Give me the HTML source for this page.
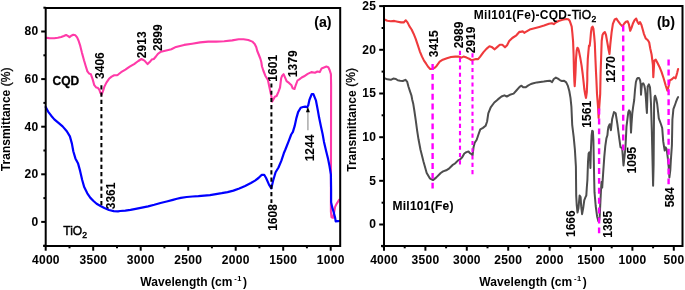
<!DOCTYPE html><html><head><meta charset="utf-8"><style>html,body{margin:0;padding:0;background:#fff;}svg{display:block;will-change:transform;filter:blur(0.3px)}text{stroke:#000;stroke-width:0.08px}.t{stroke-width:0}.n{letter-spacing:0.3px;stroke-width:0.05px}</style></head><body>
<svg width="685" height="290" viewBox="0 0 685 290" xmlns="http://www.w3.org/2000/svg" font-family="Liberation Sans">
<rect width="685" height="290" fill="#fff"/>
<polyline points="46.1,37.7 49.2,38.1 54.3,38.3 57.8,37.8 61.2,37.0 63.8,36.0 66.1,35.0 67.8,35.9 69.5,37.1 71.2,35.7 73.3,34.8 75.4,35.3 77.1,37.4 78.5,40.5 80.2,45.7 81.9,52.6 84.0,60.3 85.7,66.0 87.4,71.4 89.2,73.6 90.9,74.3 92.6,79.1 94.3,85.2 96.1,87.4 97.8,87.8 99.2,89.5 100.4,92.9 101.6,94.7 103.0,91.2 104.3,86.9 106.4,82.6 109.0,78.8 111.6,76.6 114.2,75.3 116.8,75.3 118.5,74.3 121.1,72.2 125.4,69.7 129.7,66.7 134.1,64.1 138.3,61.0 141.4,59.0 144.5,60.6 147.6,64.1 149.7,62.1 151.7,59.6 153.8,59.0 155.9,56.5 157.9,53.8 161.0,51.7 165.2,50.7 171.4,49.2 176.0,46.9 184.1,44.9 192.1,43.7 200.1,42.4 208.2,41.6 216.2,41.6 224.2,41.3 232.2,40.4 238.7,39.2 243.5,39.2 248.3,40.0 252.3,41.6 254.7,44.0 256.3,47.3 257.1,50.5 258.7,54.5 260.3,58.5 261.3,62.0 262.0,66.5 263.3,70.5 265.3,75.7 267.9,80.0 269.7,88.6 271.4,96.4 272.2,101.6 273.6,99.0 274.8,96.7 276.6,96.0 278.3,92.1 280.0,87.7 281.2,78.1 282.2,75.7 283.6,74.2 284.8,76.9 286.6,81.1 289.0,82.9 291.5,85.3 292.7,88.3 294.5,89.0 295.7,85.3 297.5,80.5 299.3,79.3 301.7,77.5 304.1,76.3 307.7,73.9 311.4,72.1 315.0,72.7 317.4,71.5 319.8,72.1 321.6,68.4 324.0,67.5 326.4,66.6 328.3,67.2 329.7,70.3 330.9,74.1 331.1,84.5 331.0,150.0 330.9,205.7 330.9,211.7 331.5,217.2 333.0,217.8 334.3,211.7 335.1,206.9 336.9,203.3 339.3,199.7" fill="none" stroke="#ff3aa8" stroke-width="2.1" stroke-linejoin="round" stroke-linecap="round"/>
<polyline points="45.7,107.0 48.1,111.6 51.2,115.7 54.3,119.4 58.5,122.9 62.6,126.4 66.8,131.2 69.9,136.4 71.9,143.6 73.3,151.2 75.4,158.4 78.1,163.6 80.1,170.9 82.2,180.0 84.2,187.1 87.3,193.3 90.4,197.9 93.5,201.0 96.6,203.8 100.5,206.0 104.4,208.0 109.0,210.0 113.7,211.1 118.0,211.3 120.2,211.0 125.3,210.6 130.5,209.9 135.7,208.9 141.9,207.7 148.1,206.4 154.3,204.8 160.5,203.0 166.7,201.5 172.9,199.9 177.0,198.8 180.8,197.9 186.7,197.0 192.5,196.5 198.4,196.2 204.2,195.6 210.0,195.1 215.9,194.1 221.7,193.2 227.6,192.1 233.4,190.6 239.3,188.5 245.1,185.9 250.9,183.0 255.0,180.6 258.5,178.0 261.8,174.8 264.2,174.8 266.1,178.0 269.0,184.6 271.3,188.4 273.1,180.8 275.6,172.3 278.5,167.5 281.3,160.9 283.8,153.3 285.4,149.5 288.6,141.4 291.2,134.5 292.9,131.9 294.7,125.9 296.4,118.1 298.1,112.1 300.7,107.8 303.0,107.0 305.2,106.6 307.0,107.3 308.2,105.4 309.4,100.0 311.7,94.1 313.4,94.1 315.9,100.3 317.9,110.7 319.1,117.6 320.9,126.2 322.6,134.0 324.0,141.9 326.0,150.5 328.1,159.1 329.5,166.0 330.9,174.7 331.1,190.0 331.1,202.1 332.1,206.9 333.9,212.9 335.1,217.8 335.7,221.4 338.1,221.2 339.9,220.8" fill="none" stroke="#0000ff" stroke-width="2.2" stroke-linejoin="round" stroke-linecap="round"/>
<g stroke="#000" stroke-width="2" stroke-dasharray="4.2,3.04">
<line x1="101.4" y1="85.2" x2="101.4" y2="206"/>
<line x1="271.4" y1="83.4" x2="271.4" y2="203"/>
</g>
<line x1="307.9" y1="111" x2="307.9" y2="130.2" stroke="#aaa" stroke-width="1.5"/>
<path d="M305.9,112.2 L307.9,106.8 L309.9,112.2 Z" fill="#000"/>
<path d="M45.7,8.0 H340.2 V245.9 H45.7 Z" fill="none" stroke="#000" stroke-width="2"/>
<line x1="43.2" y1="245.9" x2="45.7" y2="245.9" stroke="#000" stroke-width="2"/>
<line x1="43.4" y1="245.7" x2="45.7" y2="245.7" stroke="#000" stroke-width="2"/>
<line x1="41.2" y1="221.9" x2="45.7" y2="221.9" stroke="#000" stroke-width="2"/>
<line x1="43.4" y1="198.1" x2="45.7" y2="198.1" stroke="#000" stroke-width="2"/>
<line x1="41.2" y1="174.3" x2="45.7" y2="174.3" stroke="#000" stroke-width="2"/>
<line x1="43.4" y1="150.5" x2="45.7" y2="150.5" stroke="#000" stroke-width="2"/>
<line x1="41.2" y1="126.7" x2="45.7" y2="126.7" stroke="#000" stroke-width="2"/>
<line x1="43.4" y1="102.9" x2="45.7" y2="102.9" stroke="#000" stroke-width="2"/>
<line x1="41.2" y1="79.1" x2="45.7" y2="79.1" stroke="#000" stroke-width="2"/>
<line x1="43.4" y1="55.3" x2="45.7" y2="55.3" stroke="#000" stroke-width="2"/>
<line x1="41.2" y1="31.5" x2="45.7" y2="31.5" stroke="#000" stroke-width="2"/>
<line x1="43.4" y1="7.7" x2="45.7" y2="7.7" stroke="#000" stroke-width="2"/>
<text class="n" x="38.5" y="225.7" text-anchor="end" font-size="12" font-weight="bold">0</text>
<text class="n" x="38.5" y="178.1" text-anchor="end" font-size="12" font-weight="bold">20</text>
<text class="n" x="38.5" y="130.5" text-anchor="end" font-size="12" font-weight="bold">40</text>
<text class="n" x="38.5" y="82.9" text-anchor="end" font-size="12" font-weight="bold">60</text>
<text class="n" x="38.5" y="35.3" text-anchor="end" font-size="12" font-weight="bold">80</text>
<line x1="45.7" y1="245.9" x2="45.7" y2="250.7" stroke="#000" stroke-width="2"/>
<line x1="69.5" y1="245.9" x2="69.5" y2="248.3" stroke="#000" stroke-width="2"/>
<line x1="93.2" y1="245.9" x2="93.2" y2="250.7" stroke="#000" stroke-width="2"/>
<line x1="117.0" y1="245.9" x2="117.0" y2="248.3" stroke="#000" stroke-width="2"/>
<line x1="140.7" y1="245.9" x2="140.7" y2="250.7" stroke="#000" stroke-width="2"/>
<line x1="164.4" y1="245.9" x2="164.4" y2="248.3" stroke="#000" stroke-width="2"/>
<line x1="188.2" y1="245.9" x2="188.2" y2="250.7" stroke="#000" stroke-width="2"/>
<line x1="211.9" y1="245.9" x2="211.9" y2="248.3" stroke="#000" stroke-width="2"/>
<line x1="235.7" y1="245.9" x2="235.7" y2="250.7" stroke="#000" stroke-width="2"/>
<line x1="259.4" y1="245.9" x2="259.4" y2="248.3" stroke="#000" stroke-width="2"/>
<line x1="283.2" y1="245.9" x2="283.2" y2="250.7" stroke="#000" stroke-width="2"/>
<line x1="306.9" y1="245.9" x2="306.9" y2="248.3" stroke="#000" stroke-width="2"/>
<line x1="330.7" y1="245.9" x2="330.7" y2="250.7" stroke="#000" stroke-width="2"/>
<text class="n" x="45.9" y="263.7" text-anchor="middle" font-size="12" font-weight="bold">4000</text>
<text class="n" x="93.4" y="263.7" text-anchor="middle" font-size="12" font-weight="bold">3500</text>
<text class="n" x="140.8" y="263.7" text-anchor="middle" font-size="12" font-weight="bold">3000</text>
<text class="n" x="188.3" y="263.7" text-anchor="middle" font-size="12" font-weight="bold">2500</text>
<text class="n" x="235.8" y="263.7" text-anchor="middle" font-size="12" font-weight="bold">2000</text>
<text class="n" x="283.3" y="263.7" text-anchor="middle" font-size="12" font-weight="bold">1500</text>
<text class="n" x="330.8" y="263.7" text-anchor="middle" font-size="12" font-weight="bold">1000</text>
<text class="t" x="140.3" y="285.8" font-size="12" font-weight="bold" letter-spacing="0.05">Wavelength (cm<tspan dx="1.6" dy="-5" font-size="7.5">-</tspan><tspan dx="0.6" font-size="7.5">1</tspan><tspan dx="1.4" dy="5">)</tspan></text>
<text class="t" transform="translate(10.1,119.3) rotate(-90)" text-anchor="middle" font-size="12" font-weight="bold">Transmittance <tspan font-weight="normal" font-size="12" dx="0.3" dy="-0.6" style="stroke-width:0.3px">(%)</tspan></text>
<text x="52.6" y="85.4" font-size="12" font-weight="bold" style="stroke-width:0.3px">CQD</text>
<text x="63.3" y="234.9" font-size="12" style="stroke-width:0.45px">TiO<tspan dy="3.5" font-size="8.5">2</tspan></text>
<text x="331.5" y="27" text-anchor="end" font-size="14.2" font-weight="bold">(a)</text>
<polyline points="384.4,78.1 387.3,79.3 390.8,79.8 393.3,78.6 395.9,79.0 397.7,80.3 400.2,80.7 402.8,81.0 405.4,79.8 407.1,81.6 408.5,86.7 410.2,91.9 411.4,95.3 412.3,100.0 413.3,104.1 414.4,111.0 415.8,120.7 417.1,130.3 418.5,139.3 420.5,149.7 423.6,162.1 426.7,173.0 429.8,178.3 433.0,180.1 436.1,177.6 440.7,173.0 443.1,171.4 446.2,170.3 449.3,168.3 452.4,165.2 455.0,163.5 458.1,160.4 460.2,159.3 462.2,157.3 464.3,153.5 466.4,152.1 468.5,151.5 469.9,153.1 471.6,154.2 472.6,155.2 473.6,146.9 474.7,142.8 476.7,139.7 478.8,133.5 480.3,129.3 483.0,127.9 485.6,125.8 487.1,121.5 488.3,113.4 490.7,107.3 494.3,102.5 497.9,99.4 501.5,96.5 504.4,95.3 506.8,96.5 509.9,94.8 513.6,93.6 516.4,90.5 519.6,86.9 521.5,85.7 523.2,87.3 525.6,87.3 528.0,85.7 530.9,84.0 533.4,83.3 536.9,82.4 540.3,81.9 543.8,81.6 547.2,81.0 549.8,80.7 552.1,82.1 553.8,79.0 555.9,77.6 557.9,78.6 560.2,80.3 561.9,81.0 564.1,80.7 566.2,82.4 567.9,85.9 569.3,91.0 570.5,97.9 571.4,106.6 572.2,124.8 573.7,137.2 574.9,149.7 575.9,166.6 576.2,195.5 576.7,204.8 577.5,212.6 578.5,208.0 579.6,195.5 580.6,197.1 581.2,206.4 582.1,214.2 583.2,208.0 584.3,200.2 585.5,197.1 586.3,195.5 586.8,187.8 587.4,180.0 588.0,162.0 588.6,153.5 589.3,152.4 589.9,156.0 590.4,168.0 590.9,150.0 591.6,135.3 592.2,130.7 592.9,131.2 593.4,140.5 593.8,160.0 594.2,180.0 594.5,192.2 595.7,206.0 597.1,216.4 598.4,221.2 599.2,220.5 599.7,216.4 600.2,206.0 600.9,192.2 601.5,182.0 602.2,187.6 603.3,171.0 604.3,156.6 605.3,146.2 606.4,138.4 607.4,135.3 607.9,130.2 608.5,126.6 609.7,124.2 610.9,130.2 612.1,119.3 614.0,112.1 615.7,113.3 617.4,124.2 619.3,138.6 620.5,147.1 622.2,148.3 623.5,165.5 625.4,148.3 626.5,126.6 627.4,119.3 628.3,112.1 629.1,110.3 630.1,112.1 630.7,124.2 631.0,132.6 631.5,124.2 632.3,113.3 633.1,107.2 634.2,100.0 635.0,90.0 635.9,82.0 636.8,79.2 637.6,78.1 639.1,78.1 640.1,80.2 640.7,84.3 641.0,94.7 641.5,88.0 642.0,84.3 643.2,83.3 644.3,85.4 645.1,89.5 645.8,96.8 646.5,108.0 646.9,113.0 647.3,100.0 647.7,86.4 648.9,84.3 650.0,87.4 650.5,94.7 651.0,104.0 651.8,130.0 652.5,160.0 653.1,185.7 653.6,165.0 654.1,104.0 654.6,96.8 655.1,95.7 656.2,98.8 657.2,104.0 658.8,118.4 660.9,124.0 662.2,128.0 663.2,141.2 664.0,146.4 664.7,150.5 665.7,147.4 666.7,149.5 667.8,157.8 668.8,168.1 669.4,177.4 670.3,170.2 670.9,159.8 671.9,145.4 672.4,119.5 673.4,109.1 674.7,105.7 675.9,102.2 677.2,98.8 678.1,97.1" fill="none" stroke="#4d4d4d" stroke-width="2.0" stroke-linejoin="round" stroke-linecap="round"/>
<polyline points="384.4,19.5 387.3,20.7 390.8,21.2 394.2,20.9 397.7,21.7 401.1,22.4 403.7,22.4 405.8,20.3 407.5,22.4 409.5,26.4 411.6,29.5 413.6,33.7 415.7,38.8 417.8,45.1 419.8,51.3 421.9,56.4 424.0,60.6 426.1,63.7 428.1,66.8 430.2,68.9 432.4,69.0 434.5,67.9 436.6,65.9 439.7,61.7 442.8,59.7 446.9,58.2 451.0,57.0 455.2,56.6 458.3,56.6 461.4,57.6 463.5,56.6 466.6,57.6 469.7,59.0 471.7,60.3 473.4,59.7 476.0,59.0 478.1,59.1 480.2,56.6 483.3,52.4 486.4,48.9 489.5,46.2 491.6,46.9 494.7,49.3 497.4,46.9 499.8,44.8 502.3,44.8 505.0,47.3 507.1,45.2 509.2,41.1 512.3,38.0 516.4,35.3 519.5,31.7 520.5,31.9 522.9,31.4 524.3,32.8 525.8,31.9 529.7,29.6 534.5,28.3 539.3,27.0 544.1,25.6 549.0,23.7 551.9,23.2 553.8,24.1 555.7,22.5 558.6,21.0 562.5,19.8 566.3,19.0 568.3,19.3 569.7,20.8 570.7,23.7 571.7,26.6 572.4,33.4 573.1,41.7 573.6,55.0 574.0,72.6 574.4,82.0 574.7,86.2 575.1,80.0 575.5,72.6 576.0,58.8 576.7,50.5 577.4,47.8 578.2,48.6 578.8,50.5 580.2,57.4 581.6,65.7 582.7,74.0 583.6,82.2 584.3,89.0 585.2,94.5 586.0,97.9 586.8,92.4 587.3,80.0 587.3,72.6 587.8,58.8 588.4,51.9 589.0,45.6 589.7,45.9 590.3,40.3 591.0,32.1 591.7,27.7 592.6,26.6 593.4,28.6 594.2,36.2 594.8,43.1 595.3,56.0 596.0,72.0 596.4,80.0 597.0,93.8 598.1,107.6 598.6,118.0 599.2,107.6 600.2,93.8 600.6,72.6 601.1,58.8 601.7,41.0 602.5,35.0 603.4,33.3 604.8,32.0 606.0,35.0 607.2,41.9 608.6,49.7 609.5,54.0 610.3,44.5 611.6,32.4 612.9,23.8 614.7,19.5 616.4,18.6 618.1,21.2 620.3,24.1 622.4,26.4 624.1,23.8 625.9,21.7 627.6,21.2 629.0,24.7 630.2,30.7 631.4,28.1 632.8,23.8 634.5,20.3 636.2,18.6 637.6,22.1 638.8,23.8 640.0,22.1 641.4,24.7 642.8,29.8 644.0,34.1 645.7,38.4 647.9,40.2 649.2,42.5 650.2,48.3 651.6,54.5 652.9,64.8 653.3,77.3 654.3,60.7 655.8,59.7 657.4,62.8 659.5,66.9 661.6,72.1 663.6,78.3 665.7,85.5 667.4,90.7 668.8,85.5 669.8,80.4 671.9,79.3 674.0,77.3 675.6,78.3 677.1,73.1 678.1,69.0" fill="none" stroke="#ef3a3c" stroke-width="2.1" stroke-linejoin="round" stroke-linecap="round"/>
<g stroke="#ff00ff" stroke-width="2.4" stroke-dasharray="5.95,3.95">
<line x1="432.6" y1="64" x2="432.6" y2="188.5"/>
<line x1="599.1" y1="108.6" x2="599.1" y2="233.8"/>
<line x1="623.2" y1="25.6" x2="623.2" y2="150.7"/>
<line x1="668.6" y1="59.6" x2="668.6" y2="184.8"/>
</g>
<g stroke="#ff00ff" stroke-width="2.1" stroke-dasharray="4.1,3.2">
<line x1="460.0" y1="50.8" x2="460.0" y2="165"/>
<line x1="472.5" y1="53.3" x2="472.5" y2="175.2"/>
</g>
<path d="M384.0,6.0 H682.5 V245.9 H384.0 Z" fill="none" stroke="#000" stroke-width="2"/>
<line x1="381" y1="245.9" x2="384.0" y2="245.9" stroke="#000" stroke-width="2"/>
<line x1="381.6" y1="246.3" x2="384.0" y2="246.3" stroke="#000" stroke-width="2"/>
<line x1="379.2" y1="224.5" x2="384.0" y2="224.5" stroke="#000" stroke-width="2"/>
<line x1="381.6" y1="202.7" x2="384.0" y2="202.7" stroke="#000" stroke-width="2"/>
<line x1="379.2" y1="180.8" x2="384.0" y2="180.8" stroke="#000" stroke-width="2"/>
<line x1="381.6" y1="159.0" x2="384.0" y2="159.0" stroke="#000" stroke-width="2"/>
<line x1="379.2" y1="137.2" x2="384.0" y2="137.2" stroke="#000" stroke-width="2"/>
<line x1="381.6" y1="115.3" x2="384.0" y2="115.3" stroke="#000" stroke-width="2"/>
<line x1="379.2" y1="93.5" x2="384.0" y2="93.5" stroke="#000" stroke-width="2"/>
<line x1="381.6" y1="71.6" x2="384.0" y2="71.6" stroke="#000" stroke-width="2"/>
<line x1="379.2" y1="49.8" x2="384.0" y2="49.8" stroke="#000" stroke-width="2"/>
<line x1="381.6" y1="28.0" x2="384.0" y2="28.0" stroke="#000" stroke-width="2"/>
<line x1="379.2" y1="6.1" x2="384.0" y2="6.1" stroke="#000" stroke-width="2"/>
<text class="n" x="376.3" y="228.3" text-anchor="end" font-size="12" font-weight="bold">0</text>
<text class="n" x="376.3" y="184.6" text-anchor="end" font-size="12" font-weight="bold">5</text>
<text class="n" x="376.3" y="141.0" text-anchor="end" font-size="12" font-weight="bold">10</text>
<text class="n" x="376.3" y="97.3" text-anchor="end" font-size="12" font-weight="bold">15</text>
<text class="n" x="376.3" y="53.6" text-anchor="end" font-size="12" font-weight="bold">20</text>
<text class="n" x="376.3" y="9.9" text-anchor="end" font-size="12" font-weight="bold">25</text>
<line x1="384.0" y1="245.9" x2="384.0" y2="250.7" stroke="#000" stroke-width="2"/>
<line x1="404.7" y1="245.9" x2="404.7" y2="248.3" stroke="#000" stroke-width="2"/>
<line x1="425.4" y1="245.9" x2="425.4" y2="250.7" stroke="#000" stroke-width="2"/>
<line x1="446.1" y1="245.9" x2="446.1" y2="248.3" stroke="#000" stroke-width="2"/>
<line x1="466.8" y1="245.9" x2="466.8" y2="250.7" stroke="#000" stroke-width="2"/>
<line x1="487.5" y1="245.9" x2="487.5" y2="248.3" stroke="#000" stroke-width="2"/>
<line x1="508.2" y1="245.9" x2="508.2" y2="250.7" stroke="#000" stroke-width="2"/>
<line x1="528.9" y1="245.9" x2="528.9" y2="248.3" stroke="#000" stroke-width="2"/>
<line x1="549.6" y1="245.9" x2="549.6" y2="250.7" stroke="#000" stroke-width="2"/>
<line x1="570.3" y1="245.9" x2="570.3" y2="248.3" stroke="#000" stroke-width="2"/>
<line x1="591.0" y1="245.9" x2="591.0" y2="250.7" stroke="#000" stroke-width="2"/>
<line x1="611.7" y1="245.9" x2="611.7" y2="248.3" stroke="#000" stroke-width="2"/>
<line x1="632.4" y1="245.9" x2="632.4" y2="250.7" stroke="#000" stroke-width="2"/>
<line x1="653.1" y1="245.9" x2="653.1" y2="248.3" stroke="#000" stroke-width="2"/>
<line x1="673.8" y1="245.9" x2="673.8" y2="250.7" stroke="#000" stroke-width="2"/>
<text class="n" x="384.1" y="263.7" text-anchor="middle" font-size="12" font-weight="bold">4000</text>
<text class="n" x="425.5" y="263.7" text-anchor="middle" font-size="12" font-weight="bold">3500</text>
<text class="n" x="466.9" y="263.7" text-anchor="middle" font-size="12" font-weight="bold">3000</text>
<text class="n" x="508.3" y="263.7" text-anchor="middle" font-size="12" font-weight="bold">2500</text>
<text class="n" x="549.8" y="263.7" text-anchor="middle" font-size="12" font-weight="bold">2000</text>
<text class="n" x="591.1" y="263.7" text-anchor="middle" font-size="12" font-weight="bold">1500</text>
<text class="n" x="632.5" y="263.7" text-anchor="middle" font-size="12" font-weight="bold">1000</text>
<text class="n" x="673.9" y="263.7" text-anchor="middle" font-size="12" font-weight="bold">500</text>
<text class="t" x="479.3" y="285.8" font-size="12" font-weight="bold" letter-spacing="0.1">Wavelength (cm<tspan dx="1.6" dy="-5" font-size="7.5">-</tspan><tspan dx="0.6" font-size="7.5">1</tspan><tspan dx="1.4" dy="5">)</tspan></text>
<text class="t" transform="translate(355.8,119.9) rotate(-90)" text-anchor="middle" font-size="12" font-weight="bold">Transmittance <tspan font-weight="normal" font-size="12" dx="0.3" dy="-0.6" style="stroke-width:0.3px">(%)</tspan></text>
<text class="t" x="473.8" y="18.5" font-size="12" font-weight="bold" letter-spacing="0.3">Mil101(Fe)-CQD-<tspan font-weight="normal" stroke-width="0.45">TiO<tspan dy="3.5" font-size="8.5">2</tspan></tspan></text>
<text x="392.5" y="209.5" font-size="12" font-weight="bold" letter-spacing="0.25">Mil101(Fe)</text>
<text x="675" y="27" text-anchor="end" font-size="14.2" font-weight="bold">(b)</text>
<text transform="translate(104.0,65.6) rotate(-90)" text-anchor="middle" font-size="12" font-weight="bold">3406</text>
<text transform="translate(145.9,44.8) rotate(-90)" text-anchor="middle" font-size="12" font-weight="bold">2913</text>
<text transform="translate(161.5,37.7) rotate(-90)" text-anchor="middle" font-size="12" font-weight="bold">2899</text>
<text transform="translate(277.3,68.3) rotate(-90)" text-anchor="middle" font-size="12" font-weight="bold">1601</text>
<text transform="translate(297.4,63.8) rotate(-90)" text-anchor="middle" font-size="12" font-weight="bold">1379</text>
<text transform="translate(115.1,195.9) rotate(-90)" text-anchor="middle" font-size="12" font-weight="bold">3361</text>
<text transform="translate(277.1,217.5) rotate(-90)" text-anchor="middle" font-size="12" font-weight="bold">1608</text>
<text transform="translate(313.8,148.0) rotate(-90)" text-anchor="middle" font-size="12" font-weight="bold">1244</text>
<text transform="translate(437.7,43.8) rotate(-90)" text-anchor="middle" font-size="12" font-weight="bold">3415</text>
<text transform="translate(462.7,35.0) rotate(-90)" text-anchor="middle" font-size="12" font-weight="bold">2989</text>
<text transform="translate(474.7,39.9) rotate(-90)" text-anchor="middle" font-size="12" font-weight="bold">2919</text>
<text transform="translate(591.2,114.3) rotate(-90)" text-anchor="middle" font-size="12" font-weight="bold">1561</text>
<text transform="translate(614.8,69.5) rotate(-90)" text-anchor="middle" font-size="12" font-weight="bold">1270</text>
<text transform="translate(575.2,223.7) rotate(-90)" text-anchor="middle" font-size="12" font-weight="bold">1666</text>
<text transform="translate(612.3,224.3) rotate(-90)" text-anchor="middle" font-size="12" font-weight="bold">1385</text>
<text transform="translate(635.6,160.1) rotate(-90)" text-anchor="middle" font-size="12" font-weight="bold">1095</text>
<text transform="translate(674.4,197.3) rotate(-90)" text-anchor="middle" font-size="12" font-weight="bold">584</text>
</svg></body></html>
